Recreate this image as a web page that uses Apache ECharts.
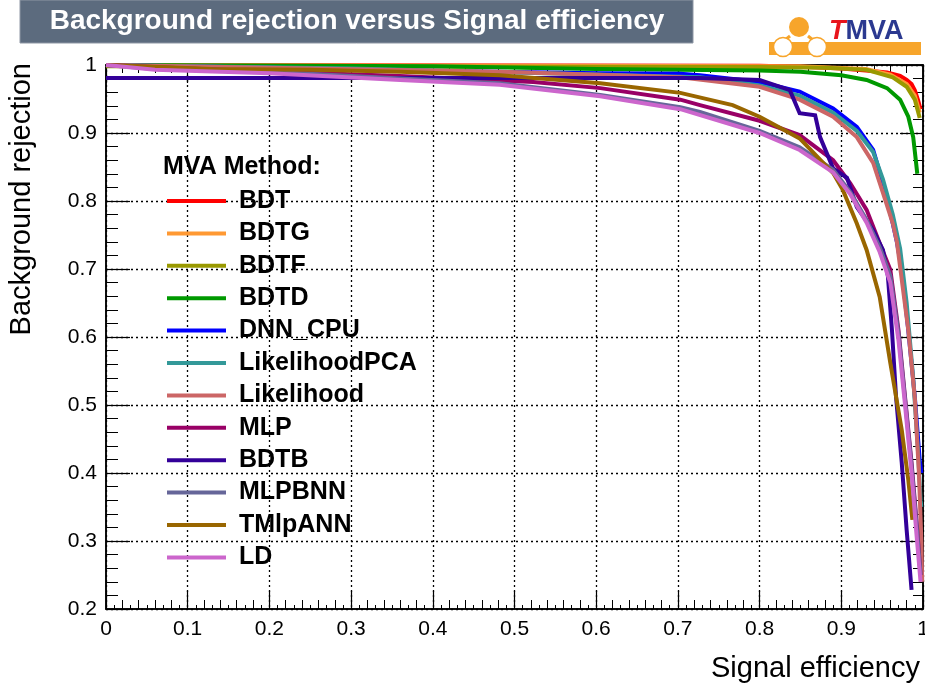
<!DOCTYPE html>
<html>
<head>
<meta charset="utf-8">
<script src="https://cdn.jsdelivr.net/npm/echarts@6/dist/echarts.min.js"></script>
<style>
html,body{margin:0;padding:0;background:#fff;}
#chart{width:925px;height:687px;}
</style>
</head>
<body>
<div id="chart"></div>
<script>
// ---- data (signal efficiency, background rejection) ----
const methodNames = ['BDT','BDTG','BDTF','BDTD','DNN_CPU','LikelihoodPCA','Likelihood','MLP','BDTB','MLPBNN','TMlpANN','LD'];
const xTickLabels = ['0','0.1','0.2','0.3','0.4','0.5','0.6','0.7','0.8','0.9','1'];
const yTickLabels = ['0.2','0.3','0.4','0.5','0.6','0.7','0.8','0.9','1'];

const BDT = [[0,1],[0.80,0.999],[0.86,0.997],[0.90,0.995],[0.93,0.992],[0.956,0.989],[0.972,0.984],[0.98,0.978],[0.986,0.972],[0.99,0.963],[0.994,0.948],[0.997,0.935]];
const BDTG = [[0,1],[0.85,0.998],[0.93,0.994],[0.96,0.986],[0.98,0.972],[0.99,0.955],[0.996,0.93]];
const BDTF = [[0,0.998],[0.80,0.997],[0.88,0.996],[0.931,0.993],[0.963,0.982],[0.98,0.968],[0.99,0.949],[0.996,0.922]];
const BDTD = [[0,1],[0.4,0.998],[0.6,0.994],[0.8,0.992],[0.85,0.99],[0.9,0.985],[0.931,0.978],[0.956,0.966],[0.972,0.949],[0.982,0.924],[0.988,0.894],[0.991,0.862],[0.993,0.84]];
const DNN_CPU = [[0,1],[0.2,0.996],[0.36,0.992],[0.605,0.988],[0.703,0.987],[0.727,0.985],[0.80,0.975],[0.849,0.961],[0.89,0.936],[0.919,0.909],[0.939,0.875],[0.951,0.826],[0.963,0.767],[0.968,0.74],[0.974,0.699],[0.982,0.61],[0.99,0.512],[0.996,0.419],[0.998,0.40]];
const LikelihoodPCA = [[0,1],[0.3,0.995],[0.6,0.986],[0.727,0.982],[0.80,0.97],[0.849,0.955],[0.89,0.93],[0.919,0.903],[0.939,0.872],[0.951,0.832],[0.963,0.78],[0.972,0.73],[0.98,0.65],[0.988,0.54],[0.994,0.43],[0.997,0.36],[0.998,0.35]];
const Likelihood = [[0,1],[0.2,0.996],[0.482,0.99],[0.703,0.982],[0.80,0.968],[0.849,0.949],[0.89,0.924],[0.919,0.894],[0.939,0.856],[0.951,0.812],[0.963,0.767],[0.968,0.74],[0.982,0.61],[0.99,0.51],[0.995,0.40],[0.998,0.30],[0.999,0.24]];
const MLP = [[0,1],[0.1,0.995],[0.36,0.984],[0.523,0.975],[0.605,0.966],[0.703,0.949],[0.727,0.941],[0.80,0.918],[0.849,0.897],[0.89,0.86],[0.911,0.826],[0.931,0.787],[0.947,0.738],[0.96,0.699],[0.97,0.61],[0.978,0.512],[0.986,0.415],[0.993,0.316],[0.997,0.25]];
const BDTB = [[0,0.981],[0.5,0.981],[0.727,0.981],[0.80,0.978],[0.837,0.963],[0.849,0.929],[0.868,0.926],[0.874,0.894],[0.89,0.848],[0.907,0.834],[0.919,0.791],[0.939,0.757],[0.951,0.728],[0.957,0.69],[0.962,0.61],[0.967,0.512],[0.974,0.415],[0.98,0.316],[0.986,0.228]];
const MLPBNN = [[0,1],[0.06,0.994],[0.2,0.99],[0.36,0.98],[0.482,0.973],[0.605,0.956],[0.703,0.938],[0.727,0.931],[0.80,0.903],[0.849,0.879],[0.89,0.846],[0.911,0.813],[0.931,0.772],[0.947,0.732],[0.96,0.69],[0.97,0.605],[0.978,0.508],[0.986,0.41],[0.993,0.31],[0.997,0.25]];
const TMlpANN = [[0,1],[0.13,0.994],[0.25,0.993],[0.36,0.99],[0.482,0.985],[0.605,0.973],[0.703,0.959],[0.767,0.941],[0.80,0.924],[0.849,0.892],[0.89,0.841],[0.902,0.816],[0.919,0.767],[0.931,0.728],[0.947,0.659],[0.96,0.562],[0.974,0.463],[0.982,0.39],[0.987,0.331]];
const LD = [[0,1],[0.06,0.993],[0.2,0.988],[0.36,0.978],[0.482,0.971],[0.605,0.954],[0.703,0.935],[0.80,0.90],[0.849,0.875],[0.89,0.842],[0.911,0.81],[0.931,0.768],[0.947,0.725],[0.96,0.68],[0.97,0.595],[0.978,0.50],[0.986,0.40],[0.992,0.31],[0.997,0.24]];

const seriesData = [BDT,BDTG,BDTF,BDTD,DNN_CPU,LikelihoodPCA,Likelihood,MLP,BDTB,MLPBNN,TMlpANN,LD];
const colors = ['#ff0000','#ff9933','#999900','#009900','#0000ff','#339999','#cc6666','#990066','#330099','#666699','#996600','#cc66cc'];

const FONT = "'Liberation Sans', Arial, Helvetica, sans-serif";
const chart = echarts.init(document.getElementById('chart'), null, {renderer:'canvas'});

const series = methodNames.map((n,i)=>({
  name:n, type:'line', xAxisIndex:0, yAxisIndex:0,
  data: seriesData[i], showSymbol:false, symbol:'none',
  lineStyle:{color:colors[i], width:4, join:'miter'},
  itemStyle:{color:colors[i]},
  animation:false, z:2+i
}));

const fmtX = v => xTickLabels[Math.round(v*10)];
const fmtY = v => yTickLabels[Math.round(v*10)-2];
const dotted = {show:true, lineStyle:{color:'#000', type:[2,3], width:1.3}};

const option = {
  backgroundColor:'#fff',
  animation:false,
  grid:{left:106, right:2, top:65, bottom:78, show:true, borderColor:'#000', borderWidth:1.5, backgroundColor:'#fff',
        containLabel:false, outerBoundsMode:'none'},
  xAxis:[
    {type:'value', position:'bottom', min:0, max:1, interval:0.1,
     axisLine:{show:true, onZero:false, lineStyle:{color:'#000', width:1.5}},
     axisTick:{show:true, inside:true, length:18, lineStyle:{color:'#000', width:1.2}},
     minorTick:{show:true, splitNumber:5, length:9, lineStyle:{color:'#000', width:1}},
     axisLabel:{fontFamily:FONT, fontSize:21, color:'#000', margin:10, formatter:fmtX},
     splitLine:dotted},
    {type:'value', position:'bottom', min:0, max:1, interval:0.01,
     axisLine:{show:false}, axisLabel:{show:false}, splitLine:{show:false},
     axisTick:{show:true, inside:true, length:4, lineStyle:{color:'#000', width:1}}},
    {type:'value', position:'top', min:0, max:1, interval:0.1,
     axisLine:{show:true, onZero:false, lineStyle:{color:'#000', width:1.5}},
     axisTick:{show:true, inside:true, length:18, lineStyle:{color:'#000', width:1.2}},
     minorTick:{show:true, splitNumber:5, length:8, lineStyle:{color:'#000', width:1}},
     axisLabel:{show:false}, splitLine:{show:false}}
  ],
  yAxis:[
    {type:'value', position:'left', min:0.2, max:1, interval:0.1,
     axisLine:{show:true, onZero:false, lineStyle:{color:'#000', width:1.5}},
     axisTick:{show:true, inside:true, length:24, lineStyle:{color:'#000', width:1.2}},
     minorTick:{show:true, splitNumber:5, length:12, lineStyle:{color:'#000', width:1}},
     axisLabel:{fontFamily:FONT, fontSize:21, color:'#000', margin:9, formatter:fmtY},
     splitLine:dotted},
    {type:'value', position:'right', min:0.2, max:1, interval:0.1,
     axisLine:{show:true, onZero:false, lineStyle:{color:'#000', width:1.5}},
     axisTick:{show:true, inside:true, length:23, lineStyle:{color:'#000', width:1.2}},
     minorTick:{show:true, splitNumber:5, length:10, lineStyle:{color:'#000', width:1}},
     axisLabel:{show:false}, splitLine:{show:false}}
  ],
  legend:{
    show:true, orient:'vertical', left:162, top:183.5, padding:5,
    itemWidth:59, itemHeight:4, itemGap:7.4, icon:'rect',
    selectedMode:false,
    data: methodNames.map((n,i)=>({name:n, icon:'rect', itemStyle:{color:colors[i]}})),
    textStyle:{fontFamily:FONT, fontSize:25, fontWeight:'bold', color:'#000', lineHeight:25, padding:[0,0,0,8]}
  },
  series: series,
  graphic:[
    {type:'rect', shape:{x:20, y:0, width:673, height:43}, style:{fill:'#5c6b7e', stroke:'#8e97a4', lineWidth:1}, z:100},
    {type:'text', x:357, y:21, style:{text:'Background rejection versus Signal efficiency', fill:'#fff', font:"bold 28px "+FONT, textAlign:'center', textVerticalAlign:'middle'}, z:101},
    // TMVA logo
    {type:'rect', shape:{x:769, y:42, width:152, height:13}, style:{fill:'#f7a52b'}, z:100},
    {type:'line', shape:{x1:790, y1:36, x2:785, y2:40}, style:{stroke:'#f7a52b', lineWidth:3}, z:100},
    {type:'line', shape:{x1:808, y1:36, x2:813, y2:40}, style:{stroke:'#f7a52b', lineWidth:3}, z:100},
    {type:'circle', shape:{cx:799, cy:27, r:10}, style:{fill:'#f7a52b'}, z:101},
    {type:'circle', shape:{cx:783, cy:47, r:9.5}, style:{fill:'#fff', stroke:'#f7a52b', lineWidth:1.5}, z:101},
    {type:'circle', shape:{cx:817, cy:47, r:9.5}, style:{fill:'#fff', stroke:'#f7a52b', lineWidth:1.5}, z:101},
    {type:'text', x:829, y:45, style:{text:'{t|T}{m|MVA}', textVerticalAlign:'bottom', rich:{
      t:{fill:'#e8141c', font:"italic bold 27px "+FONT},
      m:{fill:'#2b3990', font:"bold 27px "+FONT}}}, z:102},
    // legend header
    {type:'text', x:163, y:167, style:{text:'MVA Method:', fill:'#000', font:"bold 25px "+FONT, textVerticalAlign:'middle'}, z:100},
    // axis titles
    {type:'text', x:920, y:669, style:{text:'Signal efficiency', fill:'#000', font:"29px "+FONT, textAlign:'right', textVerticalAlign:'middle'}, z:100},
    {type:'text', x:22, y:63, rotation:Math.PI/2, style:{text:'Background rejection', fill:'#000', font:"29px "+FONT, textAlign:'right', textVerticalAlign:'middle'}, z:100}
  ]
};
chart.setOption(option);
</script>
</body>
</html>
